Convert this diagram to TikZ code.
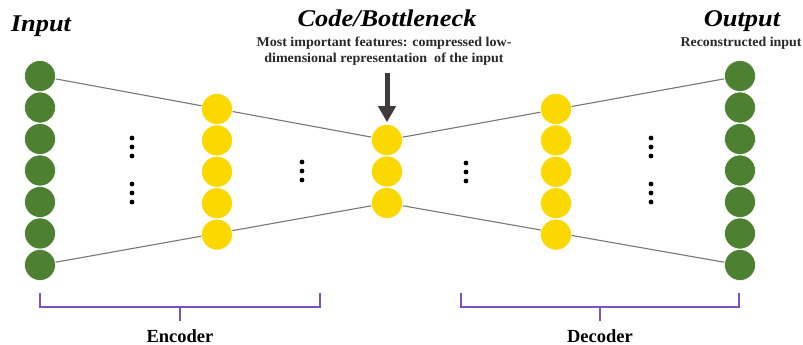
\documentclass[tikz,border=0pt]{standalone}
\usepackage{fontspec}
\setmainfont{Liberation Serif}
\usetikzlibrary{arrows.meta,backgrounds,calc}

\definecolor{neurongreen}{RGB}{78,128,50}
\definecolor{neuronyellow}{RGB}{250,216,0}
\definecolor{linkgray}{RGB}{125,116,116}
\definecolor{arrowgray}{RGB}{64,58,58}
\definecolor{bracepurple}{RGB}{126,82,190}
\definecolor{textgray}{RGB}{40,40,40}

\tikzset{
  greenunit/.style={circle, fill=neurongreen, draw=white, line width=0.6pt, minimum size=31pt, inner sep=0pt},
  yellowunit/.style={circle, fill=neuronyellow, draw=white, line width=0.6pt, minimum size=31pt, inner sep=0pt},
  link/.style={draw=linkgray, line width=1.1pt},
  brace/.style={draw=bracepurple, line width=1.4pt},
  title/.style={font=\fontsize{24}{28}\selectfont\bfseries\itshape, text=black, inner sep=0pt, anchor=base},
  note/.style={font=\fontsize{13.5}{16.5}\selectfont\bfseries, text=textgray, inner sep=0pt, align=center},
  partname/.style={font=\fontsize{18.5}{22}\selectfont\bfseries, text=black, inner sep=0pt, anchor=base},
  dot/.style={fill=black}
}

\begin{document}
\begin{tikzpicture}[x=1pt, y=-1pt]
  \useasboundingbox (0,0) rectangle (803,345);

  % input and output layers (7 units each)
  \foreach \i in {1,...,7} {
    \node[greenunit] (in\i)  at (40, {76+31.5*(\i-1)}) {};
    \node[greenunit] (out\i) at (740,{76+31.5*(\i-1)}) {};
  }
  % hidden layers (5 units each)
  \foreach \i in {1,...,5} {
    \node[yellowunit] (enc\i) at (217, {109+31.4*(\i-1)}) {};
    \node[yellowunit] (dec\i) at (556, {109+31.4*(\i-1)}) {};
  }
  % bottleneck layer (3 units)
  \foreach \i in {1,2,3} {
    \node[yellowunit] (code\i) at (387, {140+31.5*(\i-1)}) {};
  }

  % outline of the hourglass, passing behind the units
  \begin{scope}[on background layer]
    \draw[link] (in1) -- (code1);
    \draw[link] (in7) -- (code3);
    \draw[link] (code1) -- (out1);
    \draw[link] (code3) -- (out7);
  \end{scope}

  % vertical ellipses between layers
  \foreach \x/\y in {132/138, 132/184, 302/162, 466/163, 651/138, 651/184} {
    \foreach \k in {0,1,2} {
      \fill[dot] (\x, {\y+9*\k}) circle (2.4pt);
    }
  }

  % headings
  \node[title] (inlabel) at (41,32) {\scalebox{1.1}[1]{Input}};
  \node[title] (codelabel) at (387,27) {\scalebox{1.1}[1]{Code/Bottleneck}};
  \node[title] (outlabel) at (742,27) {\scalebox{1.1}[1]{Output}};

  \node[note, anchor=base] (codenote) at (384,63)
    {\scalebox{1.04}[1]{Most important features: compressed low-}\\
     \scalebox{1.04}[1]{dimensional representation\ \ of the input}};
  \node[note, anchor=base] (outnote) at (741,47) {\scalebox{1.03}[1]{Reconstructed input}};

  % arrow pointing at the bottleneck
  \coordinate (arrowstart) at (387,73);
  \draw[draw=arrowgray, line width=5pt, -{Triangle[width=17pt,length=16pt]}, shorten >=2pt]
    (arrowstart) -- (code1.north);

  % encoder / decoder brackets
  \coordinate (encL) at (40,293);
  \coordinate (encR) at (320,293);
  \coordinate (decL) at (461,293);
  \coordinate (decR) at (739,293);
  \draw[brace] (encL) -- ++(0,14) -- ($(encR)+(0,14)$) -- (encR);
  \draw[brace] (180,307) -- (180,321);
  \draw[brace] (decL) -- ++(0,14) -- ($(decR)+(0,14)$) -- (decR);
  \draw[brace] (600,307) -- (600,321);

  \node[partname] (enclabel) at (180,342) {Encoder};
  \node[partname] (declabel) at (600,342) {Decoder};
\end{tikzpicture}
\end{document}
